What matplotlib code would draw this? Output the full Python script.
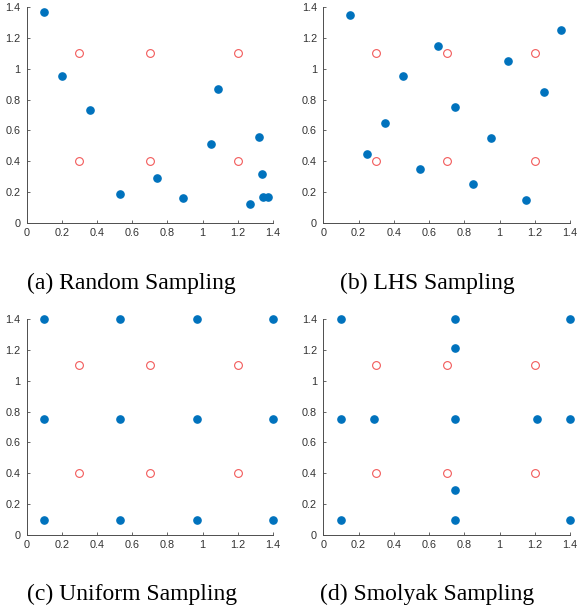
import matplotlib.pyplot as plt
import numpy as np

# reference (red open circles), same in every panel
ref_x = [0.3, 0.7, 1.2, 0.3, 0.7, 1.2]
ref_y = [1.1, 1.1, 1.1, 0.4, 0.4, 0.4]

rand_x = [0.10, 0.20, 0.36, 0.53, 0.74, 0.89, 1.05, 1.09, 1.27, 1.32, 1.34, 1.345, 1.37]
rand_y = [1.37, 0.955, 0.73, 0.19, 0.29, 0.16, 0.51, 0.87, 0.12, 0.555, 0.32, 0.17, 0.168]

lhs_x = [0.15, 0.25, 0.35, 0.45, 0.55, 0.65, 0.75, 0.85, 0.95, 1.05, 1.15, 1.25, 1.35]
lhs_y = [1.35, 0.45, 0.65, 0.95, 0.35, 1.15, 0.75, 0.25, 0.55, 1.05, 0.15, 0.85, 1.25]

uni_x = [0.1, 0.533, 0.967, 1.4] * 3
uni_y = [1.4] * 4 + [0.75] * 4 + [0.1] * 4

smol_x = [0.1, 0.75, 1.4, 0.75, 0.1, 0.29, 0.75, 1.21, 1.4, 0.75, 0.1, 0.75, 1.4]
smol_y = [1.4, 1.4, 1.4, 1.21, 0.75, 0.75, 0.75, 0.75, 0.75, 0.29, 0.1, 0.1, 0.1]

captions = ['(a) Random Sampling', '(b) LHS Sampling', '(c) Uniform Sampling', '(d) Smolyak Sampling']
ticks = [0, 0.2, 0.4, 0.6, 0.8, 1, 1.2, 1.4]
tick_labels = ['0', '0.2', '0.4', '0.6', '0.8', '1', '1.2', '1.4']

panels = [(rand_x, rand_y), (lhs_x, lhs_y), (uni_x, uni_y), (smol_x, smol_y)]
W, H = 577, 614
boxes = [(26.7, 7, 273, 223), (323.3, 7, 570, 223), (26.7, 319, 273, 535), (323.3, 319, 570, 535)]
cap_pos = [(131, 289), (427, 289), (132, 600), (427, 600)]

fig = plt.figure(figsize=(W / 100, H / 100), dpi=100)
grey = '#4d4d4d'
for (px, py), (x0, y0, x1, y1), cap, (cx, cy) in zip(panels, boxes, captions, cap_pos):
    ax = fig.add_axes([x0 / W, 1 - y1 / H, (x1 - x0) / W, (y1 - y0) / H])
    ax.plot(ref_x, ref_y, 'o', mfc='none', mec='#f25a5a', ms=5.6, mew=0.8, clip_on=False)
    ax.plot(px, py, 'o', color='#0072bd', ms=5.2, clip_on=False)
    ax.set_xlim(0, 1.4)
    ax.set_ylim(0, 1.4)
    ax.set_xticks(ticks)
    ax.set_xticklabels(tick_labels)
    ax.set_yticks(ticks)
    ax.set_yticklabels(tick_labels)
    ax.spines['top'].set_visible(False)
    ax.spines['right'].set_visible(False)
    for s in ['left', 'bottom']:
        ax.spines[s].set_color(grey)
        ax.spines[s].set_linewidth(0.7)
    ax.tick_params(direction='in', length=2.5, width=0.6, color=grey, labelcolor='#333333',
                   labelsize=7.8)
    ax.tick_params(axis='y', pad=4.5)
    ax.tick_params(axis='x', pad=3.5)
    for lab in ax.get_xticklabels() + ax.get_yticklabels():
        lab.set_family('Liberation Sans')
    fig.text(cx / W, 1 - cy / H, cap, family='Liberation Serif', fontsize=17,
             ha='center', va='baseline')

fig.savefig('out.png', dpi=100)
